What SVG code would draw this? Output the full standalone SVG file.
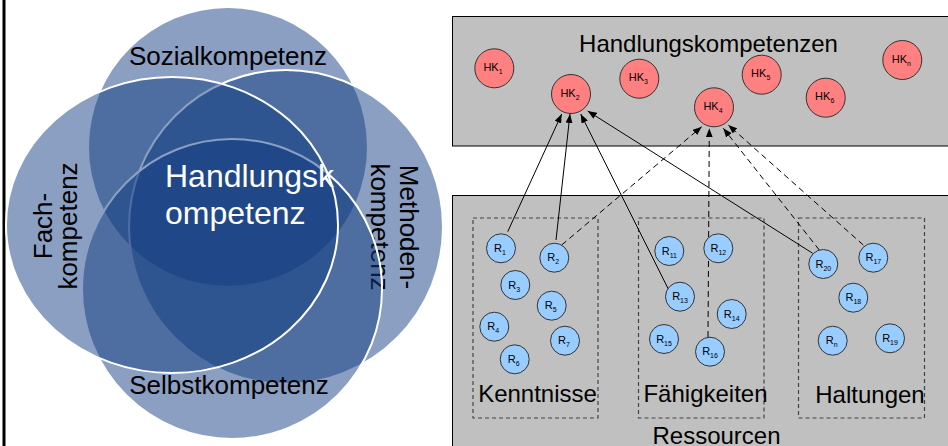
<svg xmlns="http://www.w3.org/2000/svg" width="948" height="446" viewBox="0 0 948 446">
  <style>
    text { font-family: "Liberation Sans", Arial, sans-serif; }
    .set { fill: #103b81; fill-opacity: 0.49; }
    .rim { stroke: #ffffff; stroke-width: 2; }
    .setlbl { font-size: 26px; fill: #000000; }
    .panel { fill: #c0c0c0; stroke: #000000; stroke-width: 1; }
    .hk { fill: #ff8080; stroke: #333333; stroke-width: 1; }
    .res { fill: #99ccff; stroke: #333333; stroke-width: 1; }
    .small { font-size: 11px; fill: #000000; }
    .grp { fill: none; stroke: #444444; stroke-width: 1.2; stroke-dasharray: 4 3; }
    .big { font-size: 24px; fill: #000000; }
    .link { stroke: #000000; stroke-width: 1; fill: none; marker-end: url(#tip); }
    .dash { stroke-dasharray: 6 4; }
  </style>
  <defs>
    <marker id="tip" markerWidth="9" markerHeight="7" refX="9" refY="3.5" orient="auto" markerUnits="userSpaceOnUse">
      <path d="M0,0 L9,3.5 L0,7 z" fill="#000000"/>
    </marker>
  </defs>

  <rect x="0" y="0" width="948" height="446" fill="#ffffff"/>
  <!-- left rule -->
  <rect x="2.5" y="0" width="3" height="446" fill="#000000"/>

  <!-- competence sets (Venn) -->
  <g id="sozial">
    <circle class="set" cx="228" cy="147" r="139"/>
    <text class="setlbl" x="228" y="65" text-anchor="middle">Sozialkompetenz</text>
  </g>
  <g id="methoden">
    <circle class="set rim" cx="286" cy="227" r="157"/>
    <text class="setlbl" text-anchor="middle" transform="translate(400,227) rotate(90)">Methoden-</text>
    <text class="setlbl" text-anchor="middle" transform="translate(371,227) rotate(90)">kompetenz</text>
  </g>
  <g id="selbst">
    <circle class="set rim" cx="232" cy="289" r="150"/>
    <text class="setlbl" x="229" y="394" text-anchor="middle">Selbstkompetenz</text>
  </g>
  <g id="fach">
    <ellipse class="set rim" cx="172" cy="225" rx="166" ry="148"/>
    <text class="setlbl" text-anchor="middle" transform="translate(52,226) rotate(-90)">Fach-</text>
    <text class="setlbl" text-anchor="middle" transform="translate(77,226) rotate(-90)">kompetenz</text>
  </g>
  <g id="handlungskompetenz">
    <text x="165" y="187" font-size="32" fill="#ffffff">Handlungsk</text>
    <text x="165" y="224" font-size="32" fill="#ffffff">ompetenz</text>
  </g>

  <!-- panels -->
  <g id="panel-hk">
    <rect class="panel" x="452.5" y="16.5" width="500" height="129.5"/>
    <text class="big" x="708.5" y="52" text-anchor="middle">Handlungskompetenzen</text>
  </g>
  <g id="panel-res">
    <rect class="panel" x="452.5" y="195.5" width="500" height="260"/>
    <text class="big" x="716.5" y="444" text-anchor="middle">Ressourcen</text>
  </g>

  <!-- resource groups -->
  <g id="kenntnisse">
    <rect class="grp" x="473" y="218" width="125" height="200"/>
    <text class="big" x="537.5" y="401.5" text-anchor="middle">Kenntnisse</text>
  </g>
  <g id="faehigkeiten">
    <rect class="grp" x="638.5" y="218" width="125.5" height="200"/>
    <text class="big" x="705.5" y="401.5" text-anchor="middle">Fähigkeiten</text>
  </g>
  <g id="haltungen">
    <rect class="grp" x="798.5" y="218" width="126" height="200"/>
    <text class="big" x="870" y="403" text-anchor="middle">Haltungen</text>
  </g>

  <!-- connectors -->
  <g id="connectors">
    <line class="link" x1="507.7" y1="231.7" x2="561.7" y2="114"/>
    <line class="link" x1="556" y1="240" x2="570" y2="114"/>
    <line class="link" x1="668.3" y1="289" x2="580.7" y2="114"/>
    <line class="link" x1="812.7" y1="253.3" x2="587.7" y2="111"/>
    <line class="link dash" x1="561.7" y1="245" x2="701.7" y2="126.7"/>
    <line class="link dash" x1="708" y1="337" x2="709.3" y2="128.3"/>
    <line class="link dash" x1="819.3" y1="250" x2="723.3" y2="128.3"/>
    <line class="link dash" x1="863.3" y1="245" x2="728.3" y2="125"/>
  </g>

  <!-- Handlungskompetenzen -->
  <g id="hk1"><circle class="hk" cx="494.3" cy="68.3" r="19.5"/><text class="small" x="493" y="71" text-anchor="middle">HK<tspan dy="3" font-size="7">1</tspan></text></g>
  <g id="hk2"><circle class="hk" cx="571" cy="94" r="19.5"/><text class="small" x="570" y="96.7" text-anchor="middle">HK<tspan dy="3" font-size="7">2</tspan></text></g>
  <g id="hk3"><circle class="hk" cx="639.3" cy="78.7" r="19.5"/><text class="small" x="638.3" y="81.4" text-anchor="middle">HK<tspan dy="3" font-size="7">3</tspan></text></g>
  <g id="hk4"><circle class="hk" cx="714" cy="107.3" r="19.5"/><text class="small" x="713" y="110" text-anchor="middle">HK<tspan dy="3" font-size="7">4</tspan></text></g>
  <g id="hk5"><circle class="hk" cx="761.7" cy="74.7" r="19.5"/><text class="small" x="760.7" y="77.4" text-anchor="middle">HK<tspan dy="3" font-size="7">5</tspan></text></g>
  <g id="hk6"><circle class="hk" cx="825.7" cy="97.7" r="19.5"/><text class="small" x="824.7" y="100.4" text-anchor="middle">HK<tspan dy="3" font-size="7">6</tspan></text></g>
  <g id="hkn"><circle class="hk" cx="902.3" cy="60" r="19.5"/><text class="small" x="901.3" y="62.7" text-anchor="middle">HK<tspan dy="3" font-size="7">n</tspan></text></g>

  <!-- Ressourcen -->
  <g id="r1"><circle class="res" cx="501" cy="248.3" r="14.5"/><text class="small" x="500" y="251.8" text-anchor="middle">R<tspan dy="3" font-size="7">1</tspan></text></g>
  <g id="r2"><circle class="res" cx="554.3" cy="257.7" r="14.5"/><text class="small" x="553.3" y="261.2" text-anchor="middle">R<tspan dy="3" font-size="7">2</tspan></text></g>
  <g id="r3"><circle class="res" cx="515.3" cy="285" r="14.5"/><text class="small" x="514.3" y="288.5" text-anchor="middle">R<tspan dy="3" font-size="7">3</tspan></text></g>
  <g id="r4"><circle class="res" cx="494.3" cy="326.7" r="14.5"/><text class="small" x="493.3" y="330.2" text-anchor="middle">R<tspan dy="3" font-size="7">4</tspan></text></g>
  <g id="r5"><circle class="res" cx="551.7" cy="305.7" r="14.5"/><text class="small" x="550.7" y="309.2" text-anchor="middle">R<tspan dy="3" font-size="7">5</tspan></text></g>
  <g id="r6"><circle class="res" cx="514.7" cy="359.3" r="14.5"/><text class="small" x="513.7" y="362.8" text-anchor="middle">R<tspan dy="3" font-size="7">6</tspan></text></g>
  <g id="r7"><circle class="res" cx="565" cy="340.7" r="14.5"/><text class="small" x="564" y="344.2" text-anchor="middle">R<tspan dy="3" font-size="7">7</tspan></text></g>
  <g id="r11"><circle class="res" cx="669.3" cy="251" r="14.5"/><text class="small" x="669.3" y="254.5" text-anchor="middle">R<tspan dy="3" font-size="7">11</tspan></text></g>
  <g id="r12"><circle class="res" cx="718.3" cy="248.3" r="14.5"/><text class="small" x="718.3" y="251.8" text-anchor="middle">R<tspan dy="3" font-size="7">12</tspan></text></g>
  <g id="r13"><circle class="res" cx="680" cy="296.7" r="14.5"/><text class="small" x="680" y="300.2" text-anchor="middle">R<tspan dy="3" font-size="7">13</tspan></text></g>
  <g id="r14"><circle class="res" cx="731.7" cy="314" r="14.5"/><text class="small" x="731.7" y="317.5" text-anchor="middle">R<tspan dy="3" font-size="7">14</tspan></text></g>
  <g id="r15"><circle class="res" cx="664" cy="339" r="14.5"/><text class="small" x="664" y="342.5" text-anchor="middle">R<tspan dy="3" font-size="7">15</tspan></text></g>
  <g id="r16"><circle class="res" cx="710" cy="351.7" r="14.5"/><text class="small" x="710" y="355.2" text-anchor="middle">R<tspan dy="3" font-size="7">16</tspan></text></g>
  <g id="r20"><circle class="res" cx="823.3" cy="264" r="14.5"/><text class="small" x="823.3" y="267.5" text-anchor="middle">R<tspan dy="3" font-size="7">20</tspan></text></g>
  <g id="r17"><circle class="res" cx="873.3" cy="257.7" r="14.5"/><text class="small" x="873.3" y="261.2" text-anchor="middle">R<tspan dy="3" font-size="7">17</tspan></text></g>
  <g id="r18"><circle class="res" cx="853.3" cy="297.7" r="14.5"/><text class="small" x="853.3" y="301.2" text-anchor="middle">R<tspan dy="3" font-size="7">18</tspan></text></g>
  <g id="rn"><circle class="res" cx="832.7" cy="340.7" r="14.5"/><text class="small" x="831.7" y="344.2" text-anchor="middle">R<tspan dy="3" font-size="7">n</tspan></text></g>
  <g id="r19"><circle class="res" cx="890" cy="338.3" r="14.5"/><text class="small" x="890" y="341.8" text-anchor="middle">R<tspan dy="3" font-size="7">19</tspan></text></g>
</svg>
